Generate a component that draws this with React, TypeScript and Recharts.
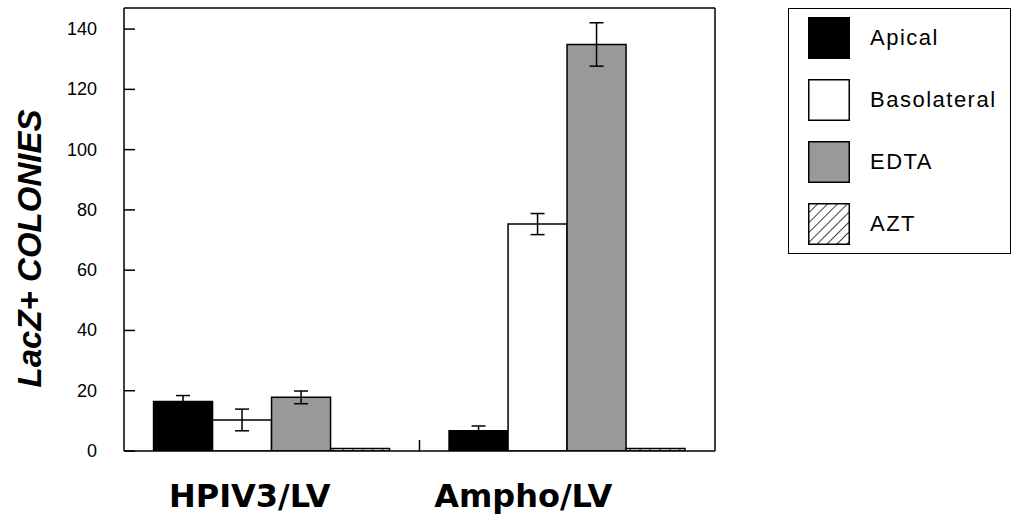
import React from 'react';
import { BarChart, Bar, XAxis, YAxis, ErrorBar, Legend, ReferenceLine } from 'recharts';

const categories = ['HPIV3/LV', 'Ampho/LV'];
const seriesNames = ['Apical', 'Basolateral', 'EDTA', 'AZT'];
const apical = [16.4, 6.7];
const apicalErr = [2.0, 1.6];
const basolateral = [10.3, 75.3];
const basolateralErr = [3.6, 3.5];
const edta = [17.8, 134.9];
const edtaErr = [2.1, 7.2];
const azt = [0.8, 0.8];
const yTicks = [0, 20, 40, 60, 80, 100, 120, 140];
const yMax = 147;
const yLabel = 'LacZ+ COLONIES';

const data = categories.map((c, i) => ({
  category: c,
  apical: apical[i],
  apicalErr: apicalErr[i],
  basolateral: basolateral[i],
  basolateralErr: basolateralErr[i],
  edta: edta[i],
  edtaErr: edtaErr[i],
  azt: azt[i],
}));

const FONT = '"Liberation Sans", Arial, sans-serif';
const xLabelShift = [-22, -44];

const YTick = (props: any) => {
  const { x, y, payload } = props;
  return (
    <g>
      <line x1={x} x2={x + 11} y1={y} y2={y} stroke="#000" strokeWidth={1.5} />
      <text x={x - 27} y={y} textAnchor="end" dominantBaseline="central" fontSize={18} fontFamily={FONT} fill="#000">
        {payload.value}
      </text>
    </g>
  );
};

const XTick = (props: any) => {
  const { x, y, payload, index } = props;
  return (
    <text x={x + (xLabelShift[index] || 0)} y={y + 56} textAnchor="middle" fontSize={32} fontWeight="bold" fontFamily='"DejaVu Sans", sans-serif' fill="#000">
      {payload.value}
    </text>
  );
};

const YLabel = (props: any) => {
  const { viewBox } = props;
  const cx = viewBox.x + 29;
  const cy = viewBox.y + viewBox.height / 2 + 19;
  return (
    <text x={cx} y={cy} transform={`rotate(-90 ${cx} ${cy})`} textAnchor="middle" dominantBaseline="central" fontSize={33} fontWeight="bold" fontStyle="italic" fontFamily={FONT} fill="#000">
      {yLabel}
    </text>
  );
};

const ShortTick = (props: any) => {
  const { x1, y1, y2 } = props;
  const bottom = Math.max(y1, y2);
  return <line x1={x1} x2={x1} y1={bottom - 11} y2={bottom} stroke="#000" strokeWidth={1.5} />;
};

const LegendBox = (props: any) => {
  const items = [...(props.payload || [])].sort(
    (a: any, b: any) => seriesNames.indexOf(a.value) - seriesNames.indexOf(b.value)
  );
  return (
    <div style={{ width: 223, height: 246, border: '1.5px solid #000', boxSizing: 'border-box', background: '#fff', position: 'relative' }}>
      {items.map((p: any, i: number) => (
        <div key={i} style={{ position: 'absolute', left: 19, top: 8 + i * 62, height: 42, display: 'flex', alignItems: 'center' }}>
          <svg width={42} height={42} style={{ display: 'block' }}>
            <rect x={0.75} y={0.75} width={40.5} height={40.5} fill={p.color} stroke="#000" strokeWidth={1.5} />
          </svg>
          <span style={{ marginLeft: 20, fontSize: 22, letterSpacing: 1.5, fontFamily: FONT, color: '#000', lineHeight: '42px' }}>{p.value}</span>
        </div>
      ))}
    </div>
  );
};

export default function App() {
  return (
    <div style={{ position: 'absolute', left: 0, top: 0, width: 1013, height: 519, background: '#fff' }}>
      <BarChart width={1013} height={519} data={data} margin={{ top: 8, right: 298, left: 0, bottom: 0 }} barCategoryGap="10%" barGap={0}>
        <defs>
          <pattern id="hatch" patternUnits="userSpaceOnUse" width={7} height={7} patternTransform="rotate(45)">
            <rect x={0} y={0} width={7} height={7} fill="#fff" />
            <line x1={0} y1={0} x2={0} y2={7} stroke="#000" strokeWidth={1.5} />
          </pattern>
        </defs>
        <XAxis dataKey="category" height={68} axisLine={{ stroke: '#000', strokeWidth: 1.5 }} tickLine={false} tickSize={0} tickMargin={0} tick={XTick} interval={0} />
        <YAxis width={124} domain={[0, yMax]} ticks={yTicks} allowDataOverflow axisLine={{ stroke: '#000', strokeWidth: 1.5 }} tickLine={false} tickSize={0} tickMargin={0} tick={YTick} label={<YLabel />} />
        <Legend layout="vertical" align="center" verticalAlign="middle" itemSorter={null as any} content={<LegendBox />} wrapperStyle={{ position: 'absolute', left: 788, top: 8, width: 223, height: 246 }} />
        <Bar dataKey="apical" name={seriesNames[0]} fill="#000000" stroke="#000" strokeWidth={1.5} isAnimationActive={false}>
          <ErrorBar dataKey="apicalErr" width={7} stroke="#000" strokeWidth={1.5} direction="y" />
        </Bar>
        <Bar dataKey="basolateral" name={seriesNames[1]} fill="#ffffff" stroke="#000" strokeWidth={1.5} isAnimationActive={false}>
          <ErrorBar dataKey="basolateralErr" width={7} stroke="#000" strokeWidth={1.5} direction="y" />
        </Bar>
        <Bar dataKey="edta" name={seriesNames[2]} fill="#999999" stroke="#000" strokeWidth={1.5} isAnimationActive={false}>
          <ErrorBar dataKey="edtaErr" width={7} stroke="#000" strokeWidth={1.5} direction="y" />
        </Bar>
        <Bar dataKey="azt" name={seriesNames[3]} fill="url(#hatch)" stroke="#000" strokeWidth={1.5} isAnimationActive={false} />
        <ReferenceLine y={yMax} stroke="#000" strokeWidth={1.5} ifOverflow="extendDomain" />
        <ReferenceLine x={categories[1]} position="end" stroke="#000" strokeWidth={1.5} />
        <ReferenceLine x={categories[1]} position="start" shape={<ShortTick />} />
      </BarChart>
    </div>
  );
}
